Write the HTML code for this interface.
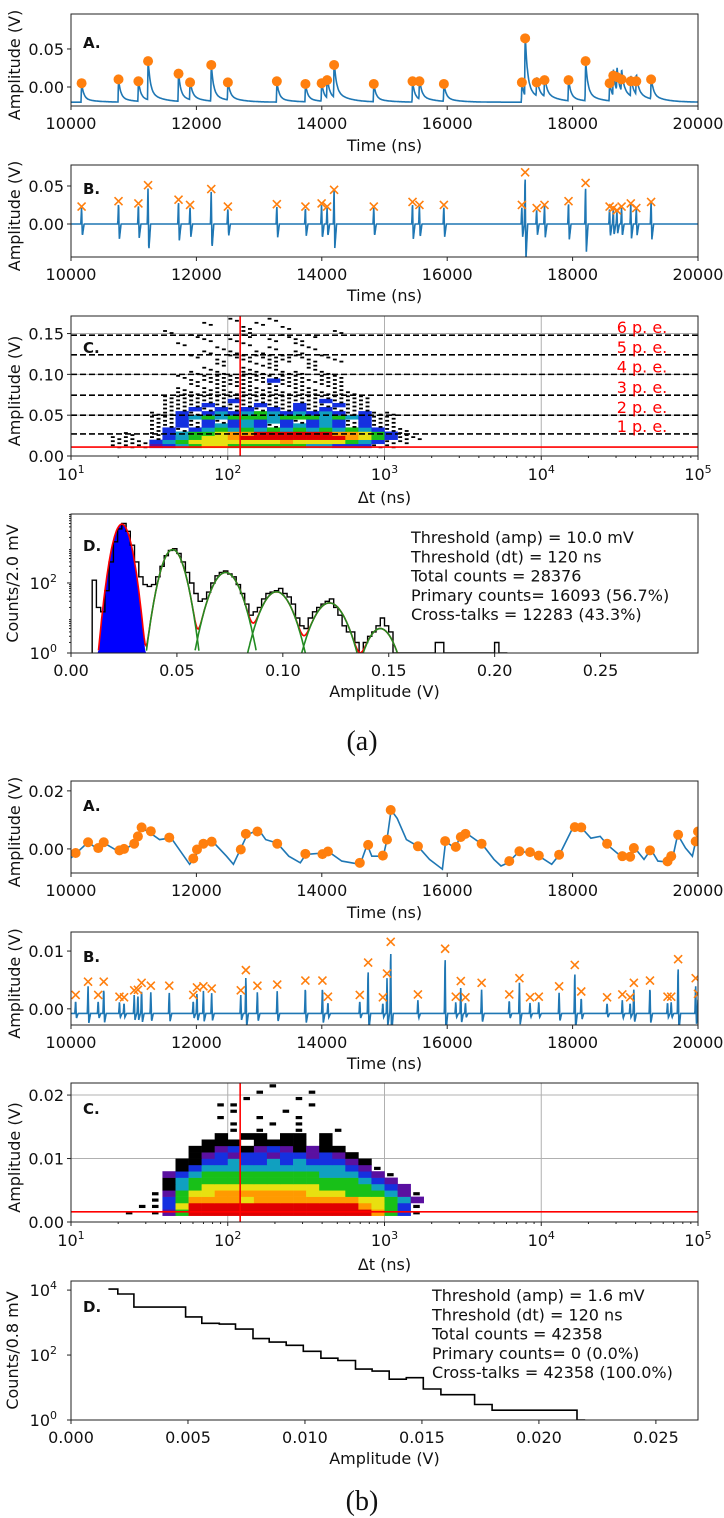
<!DOCTYPE html>
<html><head><meta charset="utf-8"><style>
html,body{margin:0;padding:0;background:#fff;}
svg{display:block;font-family:"DejaVu Sans","Liberation Sans",sans-serif;}
</style></head><body>
<svg id="fig" width="724" height="1518" viewBox="0 0 724 1518" xmlns="http://www.w3.org/2000/svg"></svg>
<script>
// ---------- DATA ----------
const aPeakT=[10169,10758,11075,11229,11715,11899,12237,12502,13283,13739,13997,14085,14196,14829,15447,15557,15947,17191,17243,17427,17552,17935,18207,18590,18649,18707,18781,18928,19016,19252];
const aPeakA=[0.005,0.010,0.0075,0.034,0.0175,0.006,0.029,0.006,0.0075,0.004,0.005,0.009,0.029,0.004,0.0075,0.0075,0.004,0.006,0.064,0.006,0.009,0.009,0.034,0.005,0.015,0.013,0.010,0.0075,0.0075,0.010];
const aBaseA=-0.02;
const aPeakB=[0.023,0.030,0.027,0.051,0.032,0.025,0.046,0.023,0.026,0.023,0.027,0.023,0.045,0.023,0.029,0.025,0.025,0.025,0.068,0.021,0.025,0.030,0.054,0.023,0.021,0.018,0.023,0.027,0.021,0.029];
const aHeat=[
"kkkpbcgyyggggggccbbbkk..",
"kkkbcgyyyyyyyoyyyygcbkk.",
"kk.kbcgyyorrrrrrrroygbkk",
".k.kbcggyoorrrrrrooygbk.",
"...kbkbcgcgcgcgcgcgcbkk.",
"...kkbkbcbcbkbcbcbkbkk..",
"...kkbkbkbcbcbkbcbkbkk..",
"...kkbcgcgggcgggcgcbkk..",
"...kkbkbcbcgcbcbcbkbkk..",
"....kkbkbkbkbkbkbkkk....",
"....kkkbkkkbkkbkkbkk....",
"....kkkkkbkkkkkkbkkk....",
"....kkkkkkkkkkkkkkkk....",
".....kkkkkkkkkkkkkk.....",
".....k.kk.kkk.kk.k......",
"......k.kkk.kkk.kk......",
"......kkkkkkbkkkkk......",
".....k.kkkkkkkk.kk......",
"......k.k.kk.kk.k.......",
".......k..k.k..k........",
"........k..kk..k........",
"........k.k.kk.k.k......",
"......k..kkkkkk.k.......",
".......k.k.k..k.........",
"........k...k..k........",
".....k....k...k.........",
".......k.k..k.k.........",
"......k...k..k.k........",
"....k.....k......k......",
"..........k..k..........",
".......k...k............",
".........k..k..........."];
const aPeLevels=[0.027,0.050,0.0745,0.100,0.124,0.148];
const aPeNames=["1 p. e.","2 p. e.","3 p. e.","4 p. e.","5 p. e.","6 p. e."];
const aHistCounts=[120,20,15,60,400,1500,3500,5000,3000,1200,400,150,90,80,90,150,300,600,850,950,700,400,200,100,50,30,35,55,100,160,200,220,180,150,90,50,25,12,15,20,35,50,55,60,70,50,40,25,10,6,5,10,15,20,25,30,35,20,12,6,4,4,2,1,2,3,4,6,10,6,4,1,1,1,1,1,1,1,1,1,1,2,2,1,1,1,1,1,1,1,1,1,1,1,1,2,1,1];
const aGaussMu=[0.024,0.048,0.073,0.097,0.122,0.146];
const aGaussAmp=[4800,900,200,56,27,5];
const aGaussSig=[0.0027,0.0034,0.0045,0.0048,0.0051,0.0045];
const aStats=["Threshold (amp) = 10.0 mV","Threshold (dt) = 120 ns","Total counts = 28376","Primary counts= 16093 (56.7%)","Cross-talks = 12283 (43.3%)"];
const bTraceT=[10000,10088,10272,10419,10530,10750,10861,11008,11118,11229,11413,11597,11781,11891,11965,12112,12259,12480,12590,12700,12811,12995,13105,13289,13473,13657,13745,14025,14098,14319,14613,14724,14797,14981,15040,15106,15202,15349,15533,15717,15923,15975,16122,16232,16306,16563,16747,16858,16968,17152,17336,17468,17667,17792,18013,18145,18292,18440,18550,18771,18918,18992,19139,19249,19360,19521,19602,19676,19801,19911,19963,20000];
const bTraceV=[-0.0031,-0.0014,0.0023,0.0000,0.0020,-0.0008,-0.0002,0.0020,0.0072,0.0060,0.0032,0.0038,-0.0019,-0.0053,-0.0031,0.0020,0.0026,-0.0025,-0.0053,-0.0002,0.0049,0.0066,0.0032,0.0020,-0.0025,-0.0048,-0.0019,-0.0014,-0.0008,-0.0042,-0.0053,0.0015,-0.0025,-0.0025,0.0032,0.0134,0.0105,0.0032,0.0009,-0.0036,-0.0070,0.0026,0.0003,0.0049,0.0054,0.0015,-0.0036,-0.0059,-0.0048,-0.0008,-0.0014,-0.0025,-0.0053,-0.0019,0.0077,0.0072,0.0037,0.0043,0.0015,-0.0025,-0.0031,0.0003,-0.0036,-0.0002,-0.0042,-0.0045,-0.0025,0.0049,0.0003,-0.0025,0.0026,0.0060];
const bPeakT=[10074,10272,10434,10522,10773,10846,11008,11067,11126,11273,11567,11950,12009,12112,12244,12708,12789,12973,13289,13738,14010,14098,14606,14739,14974,15040,15099,15533,15967,16137,16217,16291,16549,16990,17152,17321,17461,17785,18035,18138,18550,18793,18918,18977,19234,19514,19573,19683,19963,20000];
const bPeakA=[-0.0014,0.0023,0.0003,0.0023,-0.0005,0.0000,0.0018,0.0043,0.0074,0.0061,0.0039,-0.0033,-0.0002,0.0018,0.0025,-0.0002,0.0052,0.0060,0.0018,-0.0017,-0.0018,-0.0009,-0.0048,0.0014,-0.0023,0.0032,0.0134,0.0009,0.0027,0.0007,0.0041,0.0052,0.0018,-0.0042,-0.0008,-0.0011,-0.0023,-0.0020,0.0075,0.0074,0.0018,-0.0025,-0.0027,0.0003,-0.0005,-0.0043,-0.0025,0.0049,0.0026,0.0060];
const bPeakB=[0.0024,0.0047,0.0024,0.0047,0.0021,0.0020,0.0032,0.0033,0.0045,0.0040,0.0040,0.0024,0.0037,0.0039,0.0035,0.0032,0.0067,0.0040,0.0042,0.0049,0.0049,0.0021,0.0024,0.0080,0.0020,0.0061,0.0116,0.0025,0.0104,0.0021,0.0048,0.0020,0.0045,0.0025,0.0053,0.0020,0.0021,0.0039,0.0076,0.0030,0.0020,0.0025,0.0020,0.0045,0.0049,0.0021,0.0021,0.0086,0.0053,0.0026];
const bHeat=[
".k.kpgrrrrrrrrrrrrrrogbk",
"..kkbyrrrrrrrrrrrrroygbk",
"...kbgooooyooooooooyygcp",
"...kpgyyoooooooyyygggcpk",
"....kcgyyyyyyyyyggggcbp.",
"....kcgggggggggggggcbp..",
"....pbcgggggggggcccbpk..",
".....kbcccccccccccbpk...",
".....kkbbcbbcbcbbbpk....",
"......kpbpbbpbbpbpk.....",
"......kkpbkpbpkpkk......",
".......kkk.kkkk.k.......",
"........k.kk.kk.k.......",
".........k.k..k..k......",
".........k..k.k.........",
"........k..k..k.........",
".........k...k..........",
"........kk.....k........",
"..........k...k.........",
"...........k...k........",
"............k..........."];
const bHistEdges=[0.0016,0.0020,0.00269,0.0049,0.00559,0.00634,0.00703,0.00778,0.00847,0.0092,0.00993,0.01068,0.01141,0.01216,0.01287,0.0136,0.01433,0.01506,0.01581,0.01725,0.018,0.02163,0.02198];
const bHistCounts=[10700,7600,3000,1500,950,900,630,320,250,200,130,80,68,37,32,18,20,9,6,3,2,1];
const bStats=["Threshold (amp) = 1.6 mV","Threshold (dt) = 120 ns","Total counts = 42358","Primary counts= 0 (0.0%)","Cross-talks = 42358 (100.0%)"];
const timeTicks=[10000,12000,14000,16000,18000,20000];

// ---------- HELPERS ----------
const NS='http://www.w3.org/2000/svg';
const svg=document.getElementById('fig');
function el(tag,attrs,parent){const e=document.createElementNS(NS,tag);for(const k in attrs)e.setAttribute(k,attrs[k]);(parent||svg).appendChild(e);return e;}
const X0=71,X1=698;
function lin(d0,d1,r0,r1){return v=>r0+(v-d0)/(d1-d0)*(r1-r0);}
function grp(name){const g=el('g',{});return g;}
let clipN=0;
function clip(g,y0,y1){const id='c'+(clipN++);const cp=el('clipPath',{id:id},g);el('rect',{x:X0,y:y0,width:X1-X0,height:y1-y0},cp);const cg=el('g',{'clip-path':'url(#'+id+')'},g);return cg;}
function frame(g,y0,y1){el('rect',{x:X0,y:y0,width:X1-X0,height:y1-y0,fill:'none',stroke:'#222','stroke-width':1},g);}
function txt(g,x,y,s,attrs){const t=el('text',Object.assign({x:x,y:y,'font-size':16,fill:'#111'},attrs||{}),g);t.textContent=s;return t;}
function sup(g,x,y,base,exp,anchor){const t=el('text',{x:x,y:y,'font-size':16,fill:'#111','text-anchor':anchor||'middle'},g);t.appendChild(document.createTextNode(base));const s=el('tspan',{dy:-7,'font-size':11},t);s.textContent=exp;return t;}
function yLabel(g,y0,y1,s,x){const cy=(y0+y1)/2;const t=txt(g,x||20,cy,s,{'text-anchor':'middle',transform:'rotate(-90 '+(x||20)+' '+cy+')'});}
function xLabel(g,y,s){const t=txt(g,(X0+X1)/2,y,s,{'text-anchor':'middle'});}
function panelLetter(g,y,s){const t=txt(g,83,y,s,{'font-weight':'bold','font-size':15});}
function timeAxis(g,yb,xs){for(const v of timeTicks){const x=xs(v);el('line',{x1:x,x2:x,y1:yb,y2:yb+4,stroke:'#222'},g);txt(g,x,yb+23,String(v),{'text-anchor':'middle'});}}
function yTicks(g,ys,vals,fmt){for(const v of vals){const y=ys(v);el('line',{x1:X0-4,x2:X0,y1:y,y2:y,stroke:'#222'},g);txt(g,X0-7,y+6,fmt(v),{'text-anchor':'end'});}}
function logXAxis(g,yb,xs){for(let e=1;e<=5;e++){const x=xs(Math.pow(10,e));el('line',{x1:x,x2:x,y1:yb,y2:yb+4,stroke:'#222'},g);sup(g,x,yb+24,'10',String(e));if(e<5)for(let m=2;m<10;m++){const xm=xs(m*Math.pow(10,e));el('line',{x1:xm,x2:xm,y1:yb,y2:yb+2,stroke:'#222'},g);}}}
const heatCol={k:'#000',p:'#5a10a0',b:'#1530e0',c:'#10a0c0',g:'#18c018',y:'#e8e010',o:'#ff9a00',r:'#e00000'};

// ---------- (a) A ----------
(function(){
 const g=grp('panel-a-a');const y0=14,y1=106;
 const xs=lin(10000,20000,X0,X1),ys=lin(-0.025,0.096,y1,y0);
 const cg=clip(g,y0,y1);
 let pts=[];
 for(let t=10000;t<=20000;t+=5){let v=aBaseA;for(let i=0;i<aPeakT.length;i++){const d=t-aPeakT[i];const h=aPeakA[i]-aBaseA;if(d>=0)v+=h*(0.8*Math.exp(-d/35)+0.2*Math.exp(-d/200));else if(d>-8)v+=h*(1+d/8);}pts.push(xs(t).toFixed(1)+','+ys(v).toFixed(1));}
 const line=el('polyline',{points:pts.join(' '),fill:'none',stroke:'#1f77b4','stroke-width':1.6},cg);
 
 for(let i=0;i<aPeakT.length;i++){const c=el('circle',{cx:xs(aPeakT[i]),cy:ys(aPeakA[i]),r:5,fill:'#ff7f0e'},cg);}
 frame(g,y0,y1);timeAxis(g,y1,xs);yTicks(g,ys,[0,0.05],v=>v.toFixed(2));
 xLabel(g,151,'Time (ns)');yLabel(g,y0,y1+10,'Amplitude (V)');panelLetter(g,48,'A.');
})();
function spikeTrace(peakT,peakA,t0,t1,base,under){const p=[];for(let t=t0;t<=t1;t+=4){let v=base;for(let i=0;i<peakT.length;i++){const d=t-peakT[i];const a=peakA[i];if(d>-12&&d<=0)v+=a*(1+d/12);else if(d>0&&d<=12)v+=a*(1-(d/12)*(1+under));else if(d>12&&d<40)v+=-a*under*(1-(d-12)/28);}p.push([t,v]);}return p;}
// ---------- (a) B ----------
(function(){
 const g=grp('panel-a-b');const y0=165,y1=257;
 const xs=lin(10000,20000,X0,X1),ys=lin(-0.0434,0.0776,y1,y0);
 const cg=clip(g,y0,y1);
 const pts=spikeTrace(aPeakT,aPeakB,10000,20000,0,0.7).map(p=>xs(p[0]).toFixed(1)+','+ys(p[1]).toFixed(1));
 const line=el('polyline',{points:pts.join(' '),fill:'none',stroke:'#1f77b4','stroke-width':1.6},cg);
 
 for(let i=0;i<aPeakT.length;i++){const x=xs(aPeakT[i]),y=ys(aPeakB[i]);const m=el('path',{d:`M${x-4},${y-4}L${x+4},${y+4}M${x-4},${y+4}L${x+4},${y-4}`,stroke:'#ff7f0e','stroke-width':1.6},cg);}
 frame(g,y0,y1);timeAxis(g,y1,xs);yTicks(g,ys,[0,0.05],v=>v.toFixed(2));
 xLabel(g,301,'Time (ns)');yLabel(g,y0,y1+10,'Amplitude (V)');panelLetter(g,194,'B.');
})();
// ---------- heatmap panel ----------
function heatPanel(name,y0,y1,ymax,rows,rowStep,rowStart,yt,thr,peLevels,peNames,letterY,titleY,speckle){
 const g=grp(name);
 const xs=v=>X0+(Math.log10(v)-1)*156.75, ys=lin(0,ymax,y1,y0);
 const cg=clip(g,y0,y1);
 for(let e=2;e<=4;e++){const x=xs(Math.pow(10,e));el('line',{x1:x,x2:x,y1:y0,y2:y1,stroke:'#b0b0b0','stroke-width':1},cg);}
 for(const v of yt){el('line',{x1:X0,x2:X1,y1:ys(v),y2:ys(v),stroke:'#b0b0b0','stroke-width':1},cg);}
 for(let r=0;r<rows.length;r++){const row=rows[r];const a0=rowStart+r*rowStep,a1=a0+rowStep;
  for(let i=0;i<row.length;i++){const ch=row[i];if(ch==='.')continue;const lx0=Math.pow(10,1.25+i/12),lx1=Math.pow(10,1.25+(i+1)/12);
   const x=xs(lx0),w=xs(lx1)-x;const yy=ys(a1),h=ys(a0)-yy;
   if(ch==='k'&&speckle){
     const c1=el('rect',{x:x+w*0.05,y:yy+h*0.15,width:w*0.3,height:1.8,fill:'#000'},cg);
     
     const c2=el('rect',{x:x+w*0.55,y:yy+h*0.65,width:w*0.3,height:1.8,fill:'#000'},cg);
     
     continue;}
   const sparse=(ch==='k'&&(r>12||i<4||i>19));
   const c=el('rect',{x:sparse?x+w*0.2:x,y:sparse?yy+h*0.3:yy,width:sparse?w*0.5:w+0.3,height:sparse?Math.max(2,h*0.5):h+0.3,fill:heatCol[ch]},cg);
   }}
 if(peLevels){for(let k=0;k<peLevels.length;k++){const y=ys(peLevels[k]);el('line',{x1:X0,x2:X1,y1:y,y2:y,stroke:'#000','stroke-width':1.6,'stroke-dasharray':'6,3'},cg);const t=txt(g,642,y-2,peNames[k],{'text-anchor':'middle',fill:'#ff0000'});}}
 const h=el('line',{x1:X0,x2:X1,y1:ys(thr),y2:ys(thr),stroke:'#ff0000','stroke-width':1.6},cg);
 const vx=xs(120);const v=el('line',{x1:vx,x2:vx,y1:y0,y2:y1,stroke:'#ff0000','stroke-width':1.6},cg);
 frame(g,y0,y1);logXAxis(g,y1,xs);yTicks(g,ys,yt,x=>x.toFixed(2));
 xLabel(g,titleY,'\u0394t (ns)');yLabel(g,y0,y1+10,'Amplitude (V)');panelLetter(g,letterY,'C.');
}
heatPanel('panel-a-c',316,456,0.1715,aHeat,0.005,0.010,[0,0.05,0.10,0.15],0.011,aPeLevels,aPeNames,353,503,true);
// ---------- (a) D ----------
(function(){
 const g=grp('panel-a-d');const y0=514,y1=653;
 const xs=lin(0,0.296,X0,X1),yl=lin(0,3.97,y1,y0);const ys=c=>yl(Math.log10(Math.max(c,1)));
 const cg=clip(g,y0,y1);
 const gauss=(k,x)=>aGaussAmp[k]*Math.exp(-Math.pow(x-aGaussMu[k],2)/(2*aGaussSig[k]*aGaussSig[k]));
 let fp=[];for(let x=0.012;x<=0.036;x+=0.0005){fp.push(xs(x).toFixed(1)+','+ys(gauss(0,x)).toFixed(1));}
 const fill=el('polygon',{points:xs(0.012)+','+y1+' '+fp.join(' ')+' '+xs(0.036)+','+y1,fill:'#0000ff',stroke:'none'},cg);
 let d='M'+xs(0.010)+','+y1;for(let i=0;i<aHistCounts.length;i++){const a=0.010+i*0.002;d+='L'+xs(a).toFixed(1)+','+ys(aHistCounts[i]).toFixed(1)+'L'+xs(a+0.002).toFixed(1)+','+ys(aHistCounts[i]).toFixed(1);}
 const hp=el('path',{d:d,fill:'none',stroke:'#000','stroke-width':1.4},cg);
 let rp=[];for(let x=0.010;x<=0.16;x+=0.0005){let s=0;for(let k=0;k<aGaussMu.length;k++)s+=gauss(k,x);if(s>=0.8)rp.push(xs(x).toFixed(1)+','+ys(s).toFixed(1));}
 const red=el('polyline',{points:rp.join(' '),fill:'none',stroke:'#ff0000','stroke-width':1.6},cg);
 for(let k=1;k<aGaussMu.length;k++){let gp=[];for(let x=aGaussMu[k]-0.02;x<=aGaussMu[k]+0.02;x+=0.0004){const v=gauss(k,x);if(v>=0.9)gp.push(xs(x).toFixed(1)+','+yl(Math.log10(v)).toFixed(1));}
  const gl=el('polyline',{points:gp.join(' '),fill:'none',stroke:'#228b22','stroke-width':1.6},cg);}
 frame(g,y0,y1);
 for(const v of [0,0.05,0.10,0.15,0.20,0.25]){const x=xs(v);el('line',{x1:x,x2:x,y1:y1,y2:y1+4,stroke:'#222'},g);txt(g,x,y1+23,v.toFixed(2),{'text-anchor':'middle'});}
 for(const e of [0,2]){const y=yl(e);el('line',{x1:X0-4,x2:X0,y1:y,y2:y,stroke:'#222'},g);sup(g,X0-14,y+6,'10',String(e),'end');}
 for(let e=0;e<4;e++)for(let m=2;m<10;m++){const y=yl(e+Math.log10(m));el('line',{x1:X0-2,x2:X0,y1:y,y2:y,stroke:'#222'},g);}
 xLabel(g,697,'Amplitude (V)');yLabel(g,y0,y1,'Counts/2.0 mV',18);panelLetter(g,551,'D.');
 for(let i=0;i<aStats.length;i++){const t=txt(g,411,543+i*19.3,aStats[i]);}
})();
{const t=txt(svg,362,750,'(a)',{'text-anchor':'middle','font-size':28,'font-family':'"Liberation Serif",serif'});}
// ---------- (b) A ----------
(function(){
 const g=grp('panel-b-a');const y0=781,y1=873;
 const xs=lin(10000,20000,X0,X1),ys=lin(-0.0083,0.0234,y1,y0);
 const cg=clip(g,y0,y1);
 const pts=bTraceT.map((t,i)=>xs(t).toFixed(1)+','+ys(bTraceV[i]).toFixed(1));
 const line=el('polyline',{points:pts.join(' '),fill:'none',stroke:'#1f77b4','stroke-width':1.6},cg);
 
 for(let i=0;i<bPeakT.length;i++){const c=el('circle',{cx:xs(bPeakT[i]),cy:ys(bPeakA[i]),r:5,fill:'#ff7f0e'},cg);}
 frame(g,y0,y1);timeAxis(g,y1,xs);yTicks(g,ys,[0,0.02],v=>v.toFixed(2));
 xLabel(g,918,'Time (ns)');yLabel(g,y0,y1+10,'Amplitude (V)');panelLetter(g,811,'A.');
})();
// ---------- (b) B ----------
(function(){
 const g=grp('panel-b-b');const y0=932,y1=1025;
 const xs=lin(10000,20000,X0,X1),ys=lin(-0.0028,0.0133,y1,y0);
 const cg=clip(g,y0,y1);
 const pts=spikeTrace(bPeakT,bPeakB,10000,20000,-0.0008,0.35).map(p=>xs(p[0]).toFixed(1)+','+ys(p[1]).toFixed(1));
 const line=el('polyline',{points:pts.join(' '),fill:'none',stroke:'#1f77b4','stroke-width':1.6},cg);
 
 for(let i=0;i<bPeakT.length;i++){const x=xs(bPeakT[i]),y=ys(bPeakB[i]);const m=el('path',{d:`M${x-4},${y-4}L${x+4},${y+4}M${x-4},${y+4}L${x+4},${y-4}`,stroke:'#ff7f0e','stroke-width':1.6},cg);}
 frame(g,y0,y1);timeAxis(g,y1,xs);yTicks(g,ys,[0,0.01],v=>v.toFixed(2));
 xLabel(g,1069,'Time (ns)');yLabel(g,y0,y1+10,'Amplitude (V)');panelLetter(g,962,'B.');
})();
heatPanel('panel-b-c',1083,1222,0.0219,bHeat,0.001,0.001,[0,0.01,0.02],0.0016,null,null,1114,1270,false);
// ---------- (b) D ----------
(function(){
 const g=grp('panel-b-d');const y0=1281,y1=1420;
 const xs=lin(0,0.0268,X0,X1),yl=lin(0,4.28,y1,y0);const ys=c=>yl(Math.log10(Math.max(c,1)));
 const cg=clip(g,y0,y1);
 let d='M'+xs(bHistEdges[0]).toFixed(1)+','+ys(bHistCounts[0]).toFixed(1);
 for(let i=0;i<bHistCounts.length;i++){d+='L'+xs(bHistEdges[i]).toFixed(1)+','+ys(bHistCounts[i]).toFixed(1)+'L'+xs(bHistEdges[i+1]).toFixed(1)+','+ys(bHistCounts[i]).toFixed(1);}
 const hp=el('path',{d:d,fill:'none',stroke:'#000','stroke-width':1.6},cg);
 frame(g,y0,y1);
 for(const v of [0,0.005,0.010,0.015,0.020,0.025]){const x=xs(v);el('line',{x1:x,x2:x,y1:y1,y2:y1+4,stroke:'#222'},g);txt(g,x,y1+23,v.toFixed(3),{'text-anchor':'middle'});}
 for(const e of [0,2,4]){const y=yl(e);el('line',{x1:X0-4,x2:X0,y1:y,y2:y,stroke:'#222'},g);sup(g,X0-14,y+6,'10',String(e),'end');}
 xLabel(g,1464,'Amplitude (V)');yLabel(g,y0,y1,'Counts/0.8 mV',18);panelLetter(g,1312,'D.');
 for(let i=0;i<bStats.length;i++){const t=txt(g,432,1301+i*19.3,bStats[i]);}
})();
{const t=txt(svg,362,1510,'(b)',{'text-anchor':'middle','font-size':28,'font-family':'"Liberation Serif",serif'});}
</script>
</body></html>
